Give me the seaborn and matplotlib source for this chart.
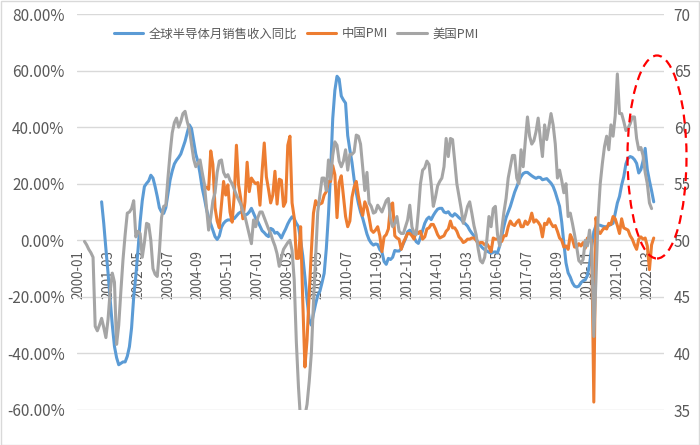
import matplotlib
matplotlib.use("Agg")
import numpy as np
import pandas as pd
import matplotlib.pyplot as plt
import seaborn as sns
from matplotlib.patches import Ellipse, Rectangle
from matplotlib.ticker import FuncFormatter
from matplotlib.lines import Line2D

# ---------------- data ----------------
months = [f"{y}-{m:02d}" for y in range(2000, 2023) for m in range(1, 13)]

tick_labels = ["2000-01", "2001-03", "2002-05", "2003-07", "2004-09", "2005-11",
               "2007-01", "2008-03", "2009-05", "2010-07", "2011-09", "2012-11",
               "2014-01", "2015-03", "2016-05", "2017-07", "2018-09", "2019-11",
               "2021-01", "2022-03"]

series_names = ["全球半导体月销售收入同比", "中国PMI", "美国PMI"]

# global semiconductor monthly sales YoY (%), from 2000-12
semi_start = "2000-12"
semi_yoy = [
    13.6,
    6.0, -3.0, -11.5, -21.0, -30.0, -37.5, -41.5, -44.0, -43.5, -43.0, -43.0, -41.0,
    -37.6, -31.0, -20.0, -12.5, -3.5, 6.5, 14.0, 19.0, 20.1, 21.0, 23.0, 22.0,
    19.0, 15.5, 11.5, 10.0, 9.5, 11.5, 16.5, 21.3, 24.5, 27.0, 28.3, 29.3,
    30.5, 32.8, 35.0, 38.0, 40.8, 39.5, 35.0, 30.5, 27.8, 23.5, 18.5, 15.0,
    11.0, 8.0, 5.8, 3.5, 1.3, 0.3, 1.5, 4.6, 6.0, 6.8, 7.2, 7.2,
    7.3, 7.7, 8.6, 9.5, 10.0, 9.5, 8.9, 9.2, 10.0, 11.3, 9.5, 7.8,
    6.6, 5.0, 3.4, 2.7, 1.8, 1.3, 4.2, 3.8, 2.5, 2.8, 2.0, 0.8,
    2.5, 4.0, 5.8, 7.2, 8.3, 7.6, 6.0, 4.8, 0.0, -5.5, -13.0, -21.0,
    -28.0, -30.0, -26.0, -22.5, -19.5, -18.0, -15.0, -11.7, -3.0, 9.0, 24.0, 43.0,
    53.0, 58.0, 57.0, 51.0, 49.6, 48.5, 37.0, 32.0, 27.5, 21.5, 16.8, 13.0,
    10.0, 7.8, 5.0, 2.2, 0.2, -1.0, -1.7, -1.3, -1.5, -3.3, -4.2, -7.5,
    -8.5, -6.4, -6.8, -6.0, -3.6, -3.8, -3.8, -3.0, -1.2, 0.5, 3.0, 3.6,
    3.0, 1.0, -0.5, -1.1, 1.0, 3.5, 6.0, 7.5, 8.2, 7.3, 8.8, 10.0,
    11.0, 11.3, 11.3, 10.0, 9.7, 10.1, 9.0, 8.5, 9.4, 8.8, 8.0, 7.4,
    6.4, 5.8, 5.0, 3.6, 2.5, 1.6, 0.5, -1.0, -1.8, -2.7, -3.3, -3.8,
    -4.2, -4.6, -4.2, -4.1, -4.5, -2.0, 1.5, 5.0, 8.0, 10.0, 12.0, 14.5,
    17.0, 18.9, 21.0, 22.5, 23.6, 24.0, 24.0, 23.4, 22.8, 22.3, 21.9, 22.3,
    22.2, 21.4, 21.6, 21.8, 21.0, 20.2, 19.0, 17.0, 14.5, 12.0, 6.5, -1.0,
    -8.0, -11.5, -13.0, -15.0, -16.2, -16.5, -16.2, -15.0, -14.3, -14.0, -12.5, -8.5,
    -2.5, 3.0, 5.2, 5.4, 5.3, 5.0, 4.8, 4.8, 5.2, 5.6, 6.0, 9.5,
    13.2, 15.5, 19.5, 22.5, 27.0, 29.0, 29.6, 29.3, 28.5, 27.2, 23.8, 25.0,
    28.0, 32.5, 25.0, 21.0, 17.5, 13.6,
]

# China PMI, from 2005-01
cn_start = "2005-01"
cn_pmi = [
    54.7, 54.5, 57.9, 56.7, 52.9, 51.7, 51.1, 53.1, 55.2, 54.0, 54.9, 52.5,
    51.6, 54.0, 58.4, 54.9, 53.7, 51.9, 53.4, 56.9, 54.3, 55.5, 55.2, 55.0,
    55.1, 53.1, 56.1, 58.6, 55.6, 54.5, 53.3, 54.0, 56.1, 53.2, 55.4, 55.3,
    53.0, 53.4, 58.4, 59.2, 53.3, 52.0, 48.4, 48.4, 51.2, 44.6, 38.8, 41.2,
    45.3, 49.0, 52.4, 53.5, 53.1, 53.2, 53.3, 54.0, 54.3, 55.2, 55.2, 56.6,
    55.8, 52.0, 55.1, 55.7, 53.9, 52.1, 51.2, 51.7, 53.8, 54.7, 55.2, 53.9,
    52.9, 52.2, 53.4, 52.9, 52.0, 50.9, 50.7, 50.9, 51.2, 50.4, 49.0, 50.3,
    50.5, 51.0, 53.1, 53.3, 50.4, 50.2, 50.1, 49.2, 49.8, 50.2, 50.6, 50.6,
    50.4, 50.1, 50.9, 50.6, 50.8, 50.1, 50.3, 51.0, 51.1, 51.4, 51.4, 51.0,
    50.5, 50.2, 50.3, 50.4, 50.8, 51.0, 51.7, 51.1, 51.1, 50.8, 50.3, 50.1,
    49.8, 49.9, 50.1, 50.1, 50.2, 50.2, 50.0, 49.7, 49.8, 49.8, 49.6, 49.7,
    49.4, 49.0, 50.2, 50.1, 50.1, 50.0, 49.9, 50.4, 50.4, 51.2, 51.7, 51.4,
    51.3, 51.6, 51.8, 51.2, 51.2, 51.7, 51.4, 51.7, 52.4, 51.6, 51.8, 51.6,
    51.3, 50.3, 51.5, 51.4, 51.9, 51.5, 51.2, 51.3, 50.8, 50.2, 50.0, 49.4,
    49.5, 49.2, 50.5, 50.1, 49.4, 49.4, 49.7, 49.5, 49.8, 49.3, 50.2, 50.2,
    50.0, 35.7, 52.0, 50.8, 50.6, 50.9, 51.1, 51.0, 51.5, 51.4, 52.1, 51.9,
    51.3, 50.6, 51.9, 51.1, 51.0, 50.9, 50.4, 50.1, 49.6, 49.2, 50.1, 50.3,
    50.1, 50.2, 49.5, 47.4, 49.6, 50.2,
]

# US PMI, from 2000-04
us_start = "2000-04"
us_pmi = [
    49.9, 49.6, 49.2, 48.9, 48.5, 42.4, 42.0, 42.5, 43.1,
    42.3, 41.4, 43.0, 45.5, 47.1, 46.3, 40.8, 42.5, 45.5, 48.3, 50.5, 52.4,
    52.5, 52.8, 53.5, 50.3, 50.8, 50.6, 48.5, 49.8, 51.5, 51.4, 50.0, 47.5,
    47.0, 46.8, 49.0, 52.0, 53.0, 53.1, 55.5, 57.7, 59.5, 60.4, 60.8, 60.0,
    60.5, 61.2, 61.4, 60.5, 59.8, 58.5, 57.2, 56.5, 56.8, 57.1, 56.0, 55.0,
    53.0, 50.9, 52.0, 53.5, 54.2, 56.0, 57.0, 57.1, 56.0, 55.6, 55.8, 55.3,
    55.0, 54.5, 54.0, 53.6, 53.2, 52.6, 52.1, 51.3, 50.5, 49.7, 51.8, 51.2,
    52.0, 52.5, 52.5, 52.0, 51.5, 51.0, 50.6, 50.0, 49.5, 48.8, 47.7, 48.5,
    49.2, 49.5, 49.8, 50.0, 49.1, 46.5, 41.0, 37.0, 34.0, 33.0, 34.5, 35.5,
    37.5, 40.0, 44.5, 48.5, 52.5, 54.0, 55.5, 55.5, 54.4, 57.1, 55.4, 57.5,
    58.7, 58.4, 57.0, 56.5, 57.0, 58.0, 56.2, 57.6, 57.6, 57.8, 59.3, 59.2,
    58.5, 56.5, 54.4, 56.0, 53.3, 53.0, 52.4, 52.5, 53.1, 52.8, 52.5, 53.0,
    53.5, 53.7, 51.8, 51.2, 51.5, 52.1, 50.8, 50.6, 50.6, 51.2, 51.8, 53.1,
    51.2, 50.6, 50.5, 52.5, 55.0, 56.2, 56.4, 57.0, 56.7, 55.0, 53.0, 53.8,
    54.8, 55.2, 55.5, 56.5, 59.0, 57.4, 59.0, 58.9, 57.0, 55.0, 53.9, 52.8,
    51.5, 52.2, 53.0, 53.4, 52.4, 51.3, 50.5, 49.2, 48.2, 48.0, 48.5, 50.0,
    52.1, 51.2, 52.8, 53.0, 50.5, 49.5, 51.0, 52.5, 53.7, 55.5, 56.5, 57.5,
    57.5, 55.5, 55.0, 58.0, 56.5, 58.8, 60.9, 59.2, 58.5, 58.8, 59.6, 60.8,
    59.0, 57.4, 60.2, 58.9, 60.0, 61.2, 60.2, 58.5, 55.5, 56.2, 55.3, 54.2,
    55.0, 52.1, 52.4, 51.5, 50.5, 49.4, 48.2, 48.0, 48.3, 50.0, 49.5, 50.9,
    49.4, 41.5, 46.5, 52.0, 55.0, 56.8, 58.3, 59.2, 58.0, 60.2, 59.2, 61.0,
    64.7, 61.2, 61.2, 60.5, 59.7, 59.9, 60.3, 60.9, 60.9, 59.0, 58.0, 58.2,
    57.5, 56.0, 55.0, 53.3, 52.8,
]


def frame(start, values):
    i0 = months.index(start)
    return pd.DataFrame({"idx": np.arange(i0, i0 + len(values)), "val": values})


df_semi = frame(semi_start, semi_yoy)
df_cn = frame(cn_start, cn_pmi)
df_us = frame(us_start, us_pmi)

# ---------------- style ----------------
sns.set_theme(style="white")
plt.rcParams["font.family"] = ["Noto Sans CJK SC", "DejaVu Sans"]
plt.rcParams["axes.unicode_minus"] = False

C_BLUE, C_ORANGE, C_GRAY = "#5B9BD5", "#ED7D31", "#A5A5A5"
TXT = "#595959"
GRID = "#D9D9D9"

W, H = 700, 445
fig = plt.figure(figsize=(W / 100, H / 100), dpi=100)
L, R, T, B = 77, 664, 14, 410
ax = fig.add_axes([L / W, 1 - B / H, (R - L) / W, (B - T) / H])
ax2 = ax.twinx()

sns.lineplot(data=df_semi, x="idx", y="val", ax=ax, color=C_BLUE, lw=2.2, legend=False)
sns.lineplot(data=df_cn, x="idx", y="val", ax=ax2, color=C_ORANGE, lw=2.2, legend=False)
sns.lineplot(data=df_us, x="idx", y="val", ax=ax2, color=C_GRAY, lw=2.2, legend=False)

ax.set_xlim(-0.5, 273.8)
ax.set_ylim(-60, 80)
ax.set_yticks(np.arange(-60, 81, 20))
ax.yaxis.set_major_formatter(FuncFormatter(lambda v, p: f"{v:.2f}%"))
ax2.set_ylim(35, 70)
ax2.set_yticks(np.arange(35, 71, 5))

ax.grid(axis="y", color=GRID, lw=1.0)
ax.grid(axis="x", visible=False)
ax2.grid(False)
ax.set_axisbelow(True)

for a in (ax, ax2):
    for s in a.spines.values():
        s.set_visible(False)
    a.set_xlabel("")
    a.set_ylabel("")

ax.spines["bottom"].set_position(("data", 0))
ax.set_xticks([months.index(t) for t in tick_labels])
ax.set_xticklabels(tick_labels, rotation=90)
ax.tick_params(axis="x", length=0, pad=7, labelsize=9.6, labelcolor=TXT)
ax.tick_params(axis="y", length=0, pad=9, labelsize=11, labelcolor=TXT)
ax2.tick_params(axis="y", length=0, pad=7, labelsize=11, labelcolor=TXT)

handles = [Line2D([], [], color=c, lw=2.2) for c in (C_BLUE, C_ORANGE, C_GRAY)]
fig.legend(handles, series_names, loc="center", bbox_to_anchor=(296 / W, 1 - 34 / H),
           ncol=3, frameon=False, fontsize=8.9, handlelength=2.4,
           handletextpad=0.4, columnspacing=0.8, labelcolor=TXT)

ell = Ellipse((657 / W, 1 - 157 / H), width=59 / W, height=203 / H,
              transform=fig.transFigure, fill=False, edgecolor="#FF0000",
              lw=1.6, linestyle=(0, (4, 2.5)), clip_on=False)
fig.add_artist(ell)

fig.add_artist(Rectangle((0.5 / W, 0.5 / H), 1 - 1.5 / W, 1 - 1.5 / H,
                         transform=fig.transFigure, fill=False,
                         edgecolor=GRID, lw=1.0))

fig.savefig("out.png", dpi=100)
